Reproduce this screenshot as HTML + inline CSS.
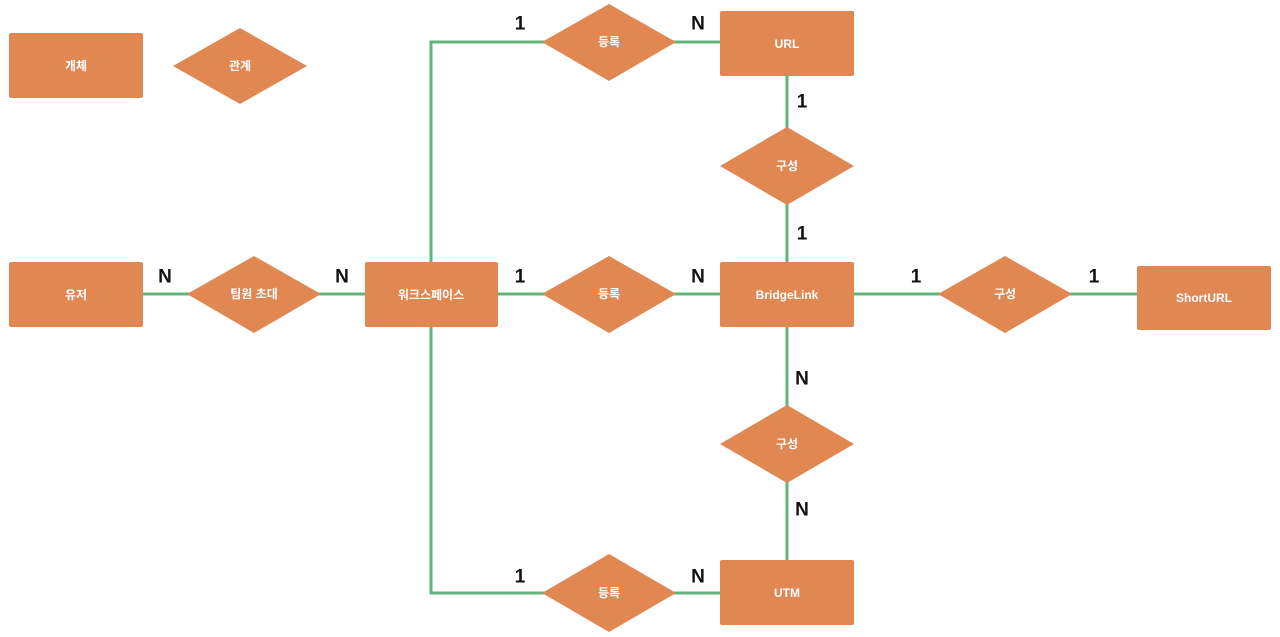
<!DOCTYPE html>
<html><head><meta charset="utf-8"><style>
body{margin:0;background:#fff;}
svg{display:block}
.t{font-family:"Liberation Sans","Noto Sans CJK KR",sans-serif;font-size:12px;font-weight:bold;fill:#fff;text-anchor:middle;dominant-baseline:central}
.c{font-family:"Liberation Sans","Noto Sans CJK KR",sans-serif;font-size:19px;font-weight:bold;fill:#111;text-anchor:middle;dominant-baseline:central}
</style></head><body>
<svg width="1280" height="637" viewBox="0 0 1280 637">
<g stroke="#62b47c" stroke-width="3" fill="none">
<path d="M143 294H365M498 294H720M854 294H1137M787 76V262M787 327V560M431 262V42H720M431 327V593H720"/>
</g>
<g fill="#e08752">
<rect x="9" y="33" width="134" height="65" rx="2"/>
<rect x="720" y="11" width="134" height="65" rx="2"/>
<rect x="9" y="262" width="134" height="65" rx="2"/>
<rect x="365" y="262" width="133" height="65" rx="2"/>
<rect x="720" y="262" width="134" height="65" rx="2"/>
<rect x="1137" y="266" width="134" height="64" rx="2"/>
<rect x="720" y="560" width="134" height="65" rx="2"/>
<polygon points="173,66 240,28 307,66 240,104"/>
<polygon points="542,42 609,4 676,42 609,81"/>
<polygon points="720,166 787,127 854,166 787,205"/>
<polygon points="187,294 254,256 321,294 254,333"/>
<polygon points="542,294 609,256 676,294 609,333"/>
<polygon points="938,294 1005,256 1072,294 1005,333"/>
<polygon points="720,444 787,405 854,444 787,483"/>
<polygon points="542,593 609,554 676,593 609,632"/>
</g>
<text class="t" x="76" y="66">개체</text>
<text class="t" x="240" y="66">관계</text>
<text class="t" x="787" y="44">URL</text>
<text class="t" x="609" y="42">등록</text>
<text class="t" x="787" y="166">구성</text>
<text class="t" x="76" y="295">유저</text>
<text class="t" x="254" y="294">팀원 초대</text>
<text class="t" x="431" y="295">워크스페이스</text>
<text class="t" x="609" y="294">등록</text>
<text class="t" x="787" y="295">BridgeLink</text>
<text class="t" x="1005" y="294">구성</text>
<text class="t" x="1204" y="298">ShortURL</text>
<text class="t" x="787" y="444">구성</text>
<text class="t" x="609" y="593">등록</text>
<text class="t" x="787" y="593">UTM</text>
<text class="c" x="520" y="24">1</text>
<text class="c" x="698" y="24">N</text>
<text class="c" x="802" y="102">1</text>
<text class="c" x="802" y="234">1</text>
<text class="c" x="165" y="277">N</text>
<text class="c" x="342" y="277">N</text>
<text class="c" x="520" y="277">1</text>
<text class="c" x="698" y="277">N</text>
<text class="c" x="916" y="277">1</text>
<text class="c" x="1094" y="277">1</text>
<text class="c" x="802" y="379">N</text>
<text class="c" x="802" y="510">N</text>
<text class="c" x="520" y="577">1</text>
<text class="c" x="698" y="577">N</text>
</svg>
</body></html>
